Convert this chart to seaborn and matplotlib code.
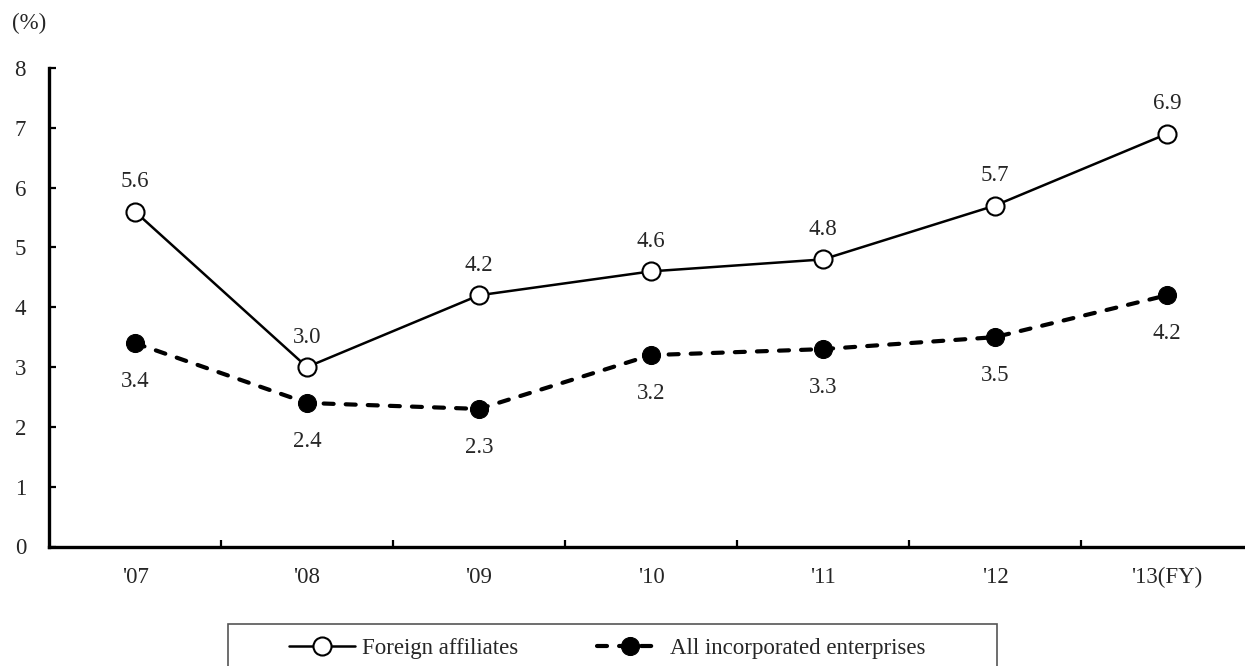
import matplotlib
matplotlib.use("Agg")
import matplotlib.pyplot as plt
from matplotlib.patches import Rectangle
import seaborn as sns
import pandas as pd
import numpy as np

years = ["'07", "'08", "'09", "'10", "'11", "'12", "'13(FY)"]
foreign = [5.6, 3.0, 4.2, 4.6, 4.8, 5.7, 6.9]
all_corp = [3.4, 2.4, 2.3, 3.2, 3.3, 3.5, 4.2]
label_foreign = "Foreign affiliates"
label_all = "All incorporated enterprises"

sns.set_theme(style="white")
plt.rcParams["font.family"] = ["Liberation Serif", "DejaVu Serif"]
FS = 16.5
plt.rcParams["font.size"] = FS

fig = plt.figure(figsize=(12.45, 6.66), dpi=100)
W, H = 1245, 666
ax = fig.add_axes([49 / W, 1 - 546.5 / H, 1204 / W, 478.5 / H])

x = np.arange(len(years))
df_f = pd.DataFrame({"x": x, "v": foreign})
df_a = pd.DataFrame({"x": x, "v": all_corp})

sns.lineplot(data=df_f, x="x", y="v", ax=ax, color="black", linewidth=1.8,
             marker="o", markersize=13, markerfacecolor="white",
             markeredgecolor="black", markeredgewidth=1.5,
             label=label_foreign, zorder=3)
sns.lineplot(data=df_a, x="x", y="v", ax=ax, color="black", linewidth=3,
             linestyle=(0, (2.4, 2.9)), dash_capstyle="round", marker="o",
             markersize=13, markerfacecolor="black", markeredgecolor="black",
             label=label_all, zorder=3)

for xi, v in zip(x, foreign):
    ax.annotate(f"{v:.1f}", (xi, v), xytext=(0, 14), textcoords="offset points",
                ha="center", va="bottom", fontsize=FS)
for xi, v in zip(x, all_corp):
    ax.annotate(f"{v:.1f}", (xi, v), xytext=(0, -20), textcoords="offset points",
                ha="center", va="top", fontsize=FS)

ax.set_xlim(-0.5, 6.5)
ax.set_ylim(0, 8)
ax.set_xticks(x)
ax.set_xticklabels(years)
ax.set_xticks(np.arange(0.5, 6.5, 1), minor=True)
ax.set_yticks(range(0, 9))
ax.set_xlabel("")
ax.set_ylabel("")

for s in ["top", "right"]:
    ax.spines[s].set_visible(False)
for s in ["left", "bottom"]:
    ax.spines[s].set_color("black")
    ax.spines[s].set_linewidth(2.4)

ax.tick_params(axis="x", which="major", length=0, pad=15, labelsize=FS)
ax.tick_params(axis="x", which="minor", direction="in", length=5, width=1.6,
               color="black", bottom=True)
ax.tick_params(axis="y", direction="in", length=5, width=1.6, color="black",
               left=True, pad=16.5, labelsize=FS)

fig.text(12 / W, 1 - 23 / H, "(%)", fontsize=FS, va="center", ha="left")

# legend box drawn in figure space, open at the bottom edge
fig.patches.append(Rectangle((228 / W, -0.01), 769 / W, 1 - 624 / H + 0.01,
                             transform=fig.transFigure, fill=False,
                             edgecolor="#555555", linewidth=1.2))

ax.get_legend().remove()
handles, labels = ax.get_legend_handles_labels()
leg = fig.legend(handles, labels, loc="center left",
                 bbox_to_anchor=(289 / W, 1 - 648 / H),
                 ncol=2, frameon=False, fontsize=FS, handlelength=2.9,
                 handletextpad=0.3, columnspacing=3.4, borderpad=0,
                 borderaxespad=0)

fig.savefig("out.png", dpi=100)
